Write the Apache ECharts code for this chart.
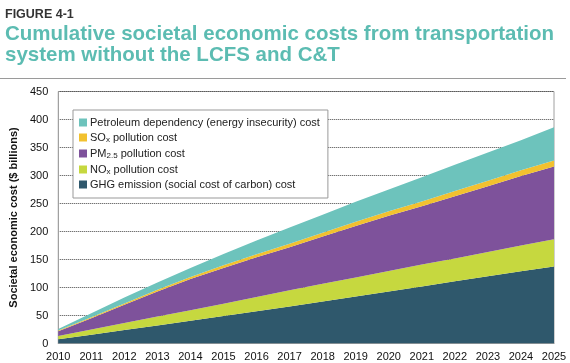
<!DOCTYPE html>
<html>
<head>
<meta charset="utf-8">
<script src="https://cdn.jsdelivr.net/npm/echarts@6/dist/echarts.min.js"></script>
<style>
html,body{margin:0;padding:0;background:#fff;}
#chart{width:570px;height:363px;}
</style>
</head>
<body>
<div id="chart"></div>
<script>
const years = ['2010','2011','2012','2013','2014','2015','2016','2017','2018','2019','2020','2021','2022','2023','2024','2025'];
const ghg = [7.5, 15.5, 24, 32, 40.5, 49, 57.5, 66, 75, 84, 93, 102, 111, 120, 129, 137.5];
const nox = [6, 9.5, 12.5, 16, 19, 22, 25.5, 29, 31.5, 34, 36.5, 39, 41, 43.5, 46, 48.5];
const pm25 = [8.5, 20, 32.5, 45, 55.5, 64, 71, 77, 84.5, 92, 98.5, 104, 111, 117.5, 124, 130];
const sox = [1, 1.8, 2.5, 3.2, 3.9, 4.6, 5.3, 6, 6.7, 7.3, 8, 8.6, 9.2, 9.8, 10.4, 11];
const petroleum = [3, 7.2, 10.5, 12.8, 16.1, 20.4, 24.7, 29, 32.3, 35.7, 39, 43.4, 46.8, 50.2, 53.6, 59];
const yTicks = [0, 50, 100, 150, 200, 250, 300, 350, 400, 450];

const names = {
  pet: 'Petroleum dependency (energy insecurity) cost',
  sox: 'SOx pollution cost',
  pm: 'PM2.5 pollution cost',
  nox: 'NOx pollution cost',
  ghg: 'GHG emission (social cost of carbon) cost'
};
const legendLabels = {};
legendLabels[names.pet] = '{a|Petroleum dependency (energy insecurity) cost}';
legendLabels[names.sox] = '{a|SO}{s|x}{a| pollution cost}';
legendLabels[names.pm] = '{a|PM}{s|2.5}{a| pollution cost}';
legendLabels[names.nox] = '{a|NO}{s|x}{a| pollution cost}';
legendLabels[names.ghg] = '{a|GHG emission (social cost of carbon) cost}';

const FONT = '"Liberation Sans", Arial, Helvetica, sans-serif';
const chart = echarts.init(document.getElementById('chart'), null, {renderer: 'canvas'});

function areaSeries(name, data, color) {
  return {
    name: name, type: 'line', stack: 'total', data: data,
    symbol: 'none', showSymbol: false, smooth: false,
    lineStyle: {width: 0, color: color},
    itemStyle: {color: color},
    areaStyle: {color: color, opacity: 1},
    emphasis: {disabled: true}
  };
}

chart.setOption({
  animation: false,
  backgroundColor: '#ffffff',
  textStyle: {fontFamily: FONT},
  title: [
    {text: 'FIGURE 4-1', left: 5, top: 8, padding: 0,
     textStyle: {fontFamily: FONT, fontSize: 12.5, fontWeight: 'bold', color: '#333333'}},
    {text: 'Cumulative societal economic costs from transportation\nsystem without the LCFS and C&T',
     left: 5, top: 24, padding: 0,
     textStyle: {fontFamily: FONT, fontSize: 20.5, fontWeight: 'bold', color: '#5cbcb2', lineHeight: 21}}
  ],
  graphic: [
    {type: 'line', shape: {x1: 0, y1: 78.5, x2: 566, y2: 78.5},
     style: {stroke: '#9a9a9a', lineWidth: 1}, silent: true}
  ],
  legend: {
    orient: 'vertical', left: 73, top: 110,
    padding: [7, 8, 8, 6],
    backgroundColor: '#ffffff', borderColor: '#999999', borderWidth: 1,
    itemWidth: 8, itemHeight: 8, itemGap: 3,
    icon: 'rect',
    data: [names.pet, names.sox, names.pm, names.nox, names.ghg],
    formatter: function (n) { return legendLabels[n]; },
    textStyle: {
      fontFamily: FONT, color: '#222', padding: [0, 0, 0, -2],
      rich: {
        a: {fontFamily: FONT, fontSize: 11, color: '#222', lineHeight: 12},
        s: {fontFamily: FONT, fontSize: 8, color: '#222', lineHeight: 12, padding: [5, 0, 0, 0]}
      }
    },
    selectedMode: false
  },
  grid: {left: 55, right: 16, top: 91.5, bottom: 19.5, show: true, borderColor: '#a0a0a0', borderWidth: 1, backgroundColor: 'transparent'},
  xAxis: {
    type: 'category', data: years, boundaryGap: false,
    axisLine: {show: true, lineStyle: {color: '#a0a0a0'}},
    axisTick: {show: false},
    axisLabel: {fontFamily: FONT, fontSize: 11, color: '#111', margin: 8, interval: 0}
  },
  yAxis: {
    type: 'value', min: yTicks[0], max: yTicks[yTicks.length - 1], interval: 50,
    name: 'Societal economic cost ($ billions)', nameLocation: 'middle', nameGap: 36,
    nameTextStyle: {fontFamily: FONT, fontSize: 11, fontWeight: 'bold', color: '#111'},
    axisLine: {show: true, lineStyle: {color: '#a0a0a0'}},
    axisTick: {show: false},
    axisLabel: {fontFamily: FONT, fontSize: 11, color: '#111', margin: 10},
    splitLine: {show: true, lineStyle: {type: 'dotted', color: '#444', width: 1}}
  },
  series: [
    areaSeries(names.ghg, ghg, '#2f586c'),
    areaSeries(names.nox, nox, '#c6d83f'),
    areaSeries(names.pm, pm25, '#7e529b'),
    areaSeries(names.sox, sox, '#f2c12f'),
    areaSeries(names.pet, petroleum, '#6dc3bc')
  ]
});
</script>
</body>
</html>
